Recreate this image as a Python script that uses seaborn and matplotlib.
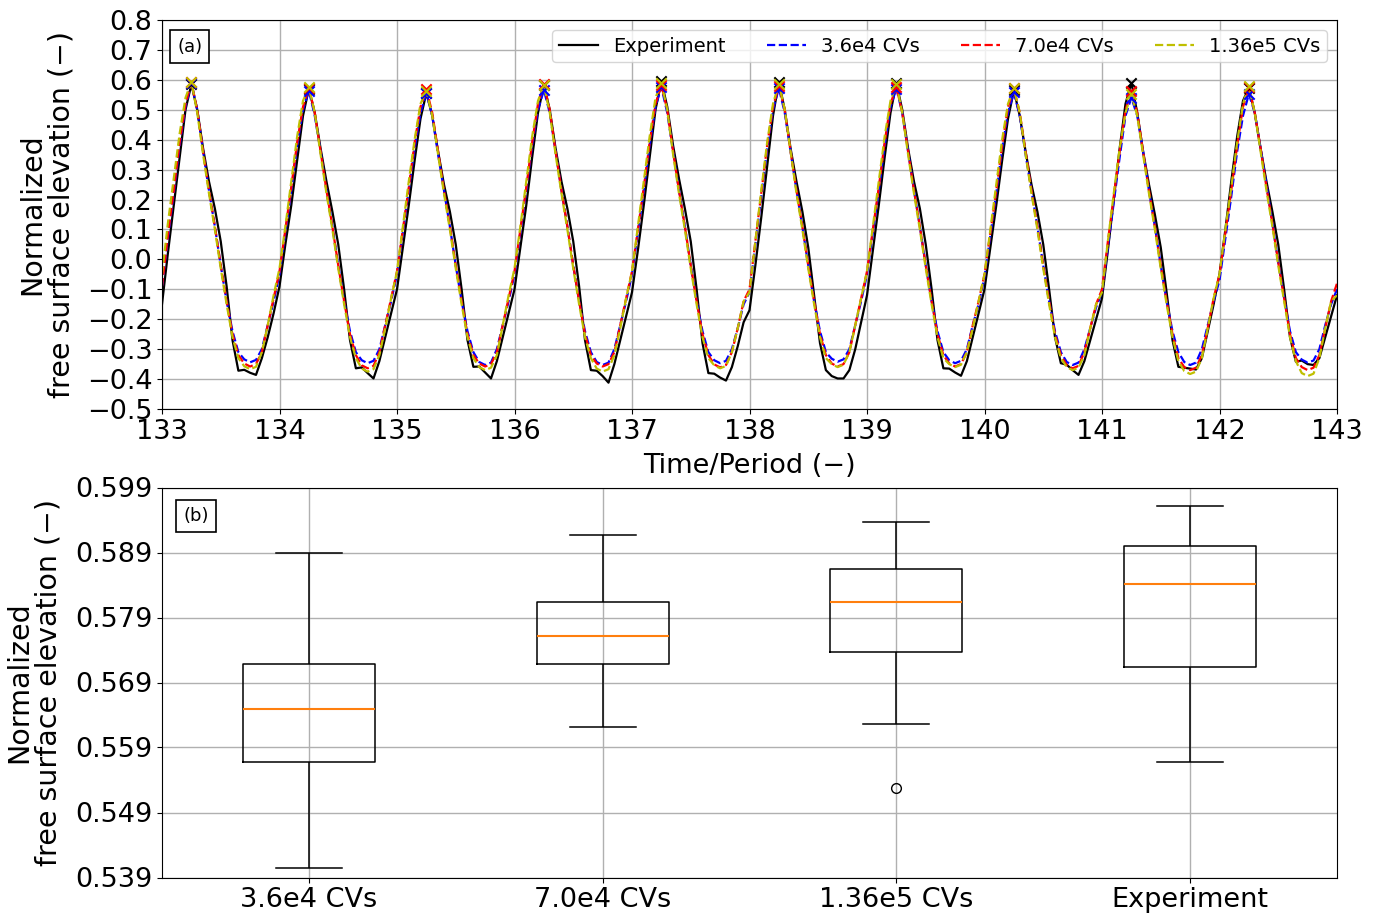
import numpy as np
import pandas as pd
import matplotlib
matplotlib.use("Agg")
import matplotlib.pyplot as plt
from matplotlib.ticker import FormatStrFormatter
import seaborn as sns

# ---------------- data ----------------
t_start = 133.0
t_step = 0.05          # sampling step in wave periods
n_periods = 10

# each row = one period, samples at phase 0.00, 0.05, ..., 0.95
experiment = [
    [-0.15, 0.02, 0.18, 0.34, 0.50, 0.5852, 0.50, 0.37, 0.26, 0.17, 0.06, -0.09, -0.27, -0.372, -0.369, -0.379, -0.386, -0.33, -0.26, -0.18],
    [-0.09, 0.05, 0.18, 0.33, 0.48, 0.5706, 0.49, 0.37, 0.26, 0.16, 0.05, -0.10, -0.27, -0.364, -0.361, -0.380, -0.398, -0.34, -0.26, -0.18],
    [-0.10, 0.04, 0.18, 0.33, 0.47, 0.5568, 0.48, 0.36, 0.25, 0.16, 0.05, -0.10, -0.27, -0.359, -0.358, -0.378, -0.398, -0.34, -0.26, -0.18],
    [-0.10, 0.04, 0.18, 0.34, 0.49, 0.5830, 0.50, 0.37, 0.26, 0.17, 0.06, -0.09, -0.27, -0.370, -0.372, -0.390, -0.412, -0.35, -0.27, -0.19],
    [-0.11, 0.03, 0.18, 0.34, 0.50, 0.5961, 0.51, 0.38, 0.27, 0.17, 0.06, -0.10, -0.28, -0.380, -0.382, -0.395, -0.405, -0.36, -0.29, -0.21],
    [-0.17, -0.02, 0.14, 0.31, 0.48, 0.5930, 0.50, 0.37, 0.26, 0.16, 0.04, -0.12, -0.28, -0.370, -0.390, -0.398, -0.398, -0.37, -0.30, -0.21],
    [-0.12, 0.03, 0.18, 0.34, 0.49, 0.5893, 0.50, 0.37, 0.26, 0.17, 0.05, -0.10, -0.27, -0.364, -0.365, -0.378, -0.389, -0.34, -0.26, -0.18],
    [-0.10, 0.04, 0.18, 0.33, 0.47, 0.5650, 0.48, 0.36, 0.25, 0.16, 0.05, -0.10, -0.26, -0.347, -0.352, -0.370, -0.386, -0.34, -0.27, -0.20],
    [-0.13, 0.03, 0.20, 0.37, 0.52, 0.5903, 0.49, 0.36, 0.25, 0.15, 0.04, -0.11, -0.27, -0.359, -0.362, -0.365, -0.368, -0.33, -0.24, -0.15],
    [-0.05, 0.10, 0.26, 0.41, 0.53, 0.5738, 0.49, 0.37, 0.26, 0.16, 0.05, -0.10, -0.26, -0.342, -0.338, -0.350, -0.353, -0.33, -0.26, -0.19],
]
experiment_end = -0.12

cv_36e4 = [
    [-0.09, 0.07, 0.22, 0.38, 0.51, 0.5890, 0.50, 0.36, 0.23, 0.11, -0.02, -0.14, -0.24, -0.31, -0.334, -0.344, -0.336, -0.30, -0.22, -0.14],
    [-0.05, 0.09, 0.23, 0.38, 0.50, 0.5640, 0.48, 0.36, 0.23, 0.11, -0.02, -0.14, -0.24, -0.31, -0.337, -0.347, -0.339, -0.30, -0.22, -0.14],
    [-0.05, 0.09, 0.23, 0.37, 0.49, 0.5562, 0.48, 0.35, 0.23, 0.11, -0.02, -0.14, -0.24, -0.31, -0.343, -0.353, -0.345, -0.30, -0.22, -0.14],
    [-0.05, 0.09, 0.23, 0.38, 0.50, 0.5660, 0.49, 0.36, 0.23, 0.11, -0.02, -0.14, -0.24, -0.31, -0.343, -0.353, -0.345, -0.30, -0.22, -0.14],
    [-0.05, 0.09, 0.23, 0.38, 0.51, 0.5760, 0.49, 0.36, 0.23, 0.11, -0.02, -0.14, -0.24, -0.31, -0.337, -0.347, -0.339, -0.30, -0.23, -0.15],
    [-0.11, 0.05, 0.21, 0.37, 0.50, 0.5721, 0.49, 0.36, 0.23, 0.11, -0.02, -0.14, -0.24, -0.31, -0.332, -0.342, -0.334, -0.30, -0.22, -0.14],
    [-0.05, 0.09, 0.23, 0.38, 0.51, 0.5710, 0.49, 0.36, 0.23, 0.11, -0.02, -0.14, -0.24, -0.31, -0.337, -0.347, -0.339, -0.30, -0.22, -0.15],
    [-0.06, 0.08, 0.22, 0.37, 0.49, 0.5582, 0.48, 0.35, 0.23, 0.11, -0.02, -0.14, -0.24, -0.31, -0.343, -0.353, -0.345, -0.30, -0.23, -0.16],
    [-0.11, 0.04, 0.19, 0.34, 0.48, 0.5404, 0.48, 0.36, 0.23, 0.11, -0.02, -0.14, -0.24, -0.31, -0.343, -0.353, -0.345, -0.30, -0.22, -0.14],
    [-0.07, 0.07, 0.21, 0.36, 0.48, 0.5530, 0.49, 0.37, 0.25, 0.12, -0.01, -0.13, -0.24, -0.31, -0.335, -0.345, -0.338, -0.30, -0.22, -0.15],
]
cv_36e4_end = -0.10

cv_70e4 = [
    [-0.09, 0.08, 0.23, 0.39, 0.52, 0.5917, 0.50, 0.36, 0.23, 0.11, -0.02, -0.14, -0.25, -0.32, -0.348, -0.358, -0.350, -0.31, -0.22, -0.13],
    [-0.04, 0.10, 0.24, 0.39, 0.51, 0.5736, 0.49, 0.36, 0.23, 0.11, -0.02, -0.14, -0.25, -0.32, -0.354, -0.364, -0.356, -0.31, -0.22, -0.13],
    [-0.04, 0.10, 0.24, 0.39, 0.51, 0.5690, 0.49, 0.36, 0.23, 0.11, -0.02, -0.14, -0.25, -0.32, -0.348, -0.358, -0.350, -0.31, -0.22, -0.13],
    [-0.04, 0.10, 0.24, 0.39, 0.52, 0.5850, 0.50, 0.36, 0.23, 0.11, -0.02, -0.14, -0.25, -0.32, -0.348, -0.358, -0.350, -0.31, -0.22, -0.13],
    [-0.04, 0.10, 0.24, 0.39, 0.52, 0.5817, 0.50, 0.36, 0.23, 0.11, -0.02, -0.14, -0.25, -0.32, -0.351, -0.361, -0.353, -0.31, -0.23, -0.14],
    [-0.10, 0.06, 0.22, 0.38, 0.51, 0.5806, 0.50, 0.36, 0.23, 0.11, -0.02, -0.14, -0.25, -0.32, -0.348, -0.358, -0.350, -0.31, -0.22, -0.13],
    [-0.04, 0.10, 0.24, 0.39, 0.52, 0.5772, 0.49, 0.36, 0.23, 0.11, -0.02, -0.14, -0.25, -0.32, -0.348, -0.358, -0.350, -0.31, -0.22, -0.14],
    [-0.05, 0.09, 0.23, 0.38, 0.51, 0.5712, 0.49, 0.36, 0.23, 0.11, -0.02, -0.14, -0.25, -0.32, -0.354, -0.364, -0.356, -0.31, -0.23, -0.15],
    [-0.10, 0.06, 0.21, 0.36, 0.50, 0.5622, 0.49, 0.36, 0.23, 0.11, -0.02, -0.14, -0.25, -0.33, -0.360, -0.370, -0.362, -0.32, -0.23, -0.13],
    [-0.05, 0.09, 0.23, 0.38, 0.51, 0.5752, 0.49, 0.37, 0.24, 0.12, -0.01, -0.13, -0.25, -0.33, -0.360, -0.370, -0.362, -0.32, -0.23, -0.14],
]
cv_70e4_end = -0.08

cv_136e5 = [
    [-0.05, 0.12, 0.27, 0.42, 0.54, 0.5937, 0.49, 0.35, 0.22, 0.10, -0.03, -0.15, -0.26, -0.33, -0.357, -0.367, -0.359, -0.31, -0.22, -0.12],
    [-0.03, 0.11, 0.26, 0.41, 0.53, 0.5758, 0.49, 0.35, 0.22, 0.10, -0.03, -0.15, -0.26, -0.33, -0.365, -0.375, -0.367, -0.32, -0.23, -0.13],
    [-0.04, 0.11, 0.26, 0.40, 0.52, 0.5626, 0.48, 0.35, 0.22, 0.10, -0.03, -0.15, -0.26, -0.33, -0.360, -0.370, -0.362, -0.32, -0.22, -0.12],
    [-0.03, 0.11, 0.26, 0.41, 0.53, 0.5828, 0.49, 0.35, 0.22, 0.10, -0.03, -0.15, -0.26, -0.33, -0.365, -0.375, -0.367, -0.32, -0.23, -0.13],
    [-0.04, 0.11, 0.26, 0.41, 0.54, 0.5900, 0.50, 0.35, 0.22, 0.10, -0.03, -0.15, -0.26, -0.33, -0.354, -0.364, -0.356, -0.31, -0.23, -0.14],
    [-0.11, 0.06, 0.23, 0.39, 0.52, 0.5867, 0.50, 0.36, 0.22, 0.10, -0.03, -0.15, -0.26, -0.33, -0.350, -0.360, -0.352, -0.31, -0.22, -0.13],
    [-0.04, 0.11, 0.26, 0.41, 0.53, 0.5860, 0.49, 0.35, 0.22, 0.10, -0.03, -0.15, -0.26, -0.33, -0.350, -0.360, -0.352, -0.31, -0.23, -0.14],
    [-0.05, 0.10, 0.25, 0.40, 0.52, 0.5730, 0.49, 0.35, 0.22, 0.10, -0.03, -0.15, -0.26, -0.33, -0.360, -0.370, -0.362, -0.32, -0.23, -0.15],
    [-0.11, 0.06, 0.22, 0.37, 0.49, 0.5528, 0.48, 0.35, 0.22, 0.10, -0.03, -0.15, -0.26, -0.34, -0.373, -0.383, -0.375, -0.33, -0.23, -0.13],
    [-0.05, 0.10, 0.24, 0.39, 0.52, 0.5800, 0.49, 0.36, 0.23, 0.11, -0.02, -0.14, -0.26, -0.34, -0.380, -0.390, -0.382, -0.33, -0.23, -0.14],
]
cv_136e5_end = -0.12

series_names = ["Experiment", "3.6e4 CVs", "7.0e4 CVs", "1.36e5 CVs"]
series_rows = [experiment, cv_36e4, cv_70e4, cv_136e5]
series_ends = [experiment_end, cv_36e4_end, cv_70e4_end, cv_136e5_end]
series_colors = ["k", "b", "r", "y"]
series_styles = ["-", "--", "--", "--"]

box_order = ["3.6e4 CVs", "7.0e4 CVs", "1.36e5 CVs", "Experiment"]

# ---------------- figure ----------------
plt.rcParams["font.family"] = ["DejaVu Sans"]
fig = plt.figure(figsize=(13.8, 9.17), dpi=100)
ax1 = fig.add_axes([162 / 1380, 1 - 409 / 917, 1175 / 1380, 389 / 917])
ax2 = fig.add_axes([162 / 1380, 1 - 877.5 / 917, 1175 / 1380, 390 / 917])

n_samp = len(experiment[0])
time = np.round(t_start + t_step * np.arange(n_periods * n_samp + 1), 4)

peak_records = []
for name, rows, end, col, ls in zip(series_names, series_rows, series_ends,
                                     series_colors, series_styles):
    vals = np.array([v for r in rows for v in r] + [end])
    sns.lineplot(x=time, y=vals, ax=ax1, color=col, linestyle=ls,
                 linewidth=1.6, label=name, sort=False)
    pk_t, pk_v = [], []
    for i, r in enumerate(rows):
        j = int(np.argmax(r))
        pk_t.append(time[i * n_samp + j])
        pk_v.append(r[j])
        peak_records.append({"case": name, "peak": r[j]})
    sns.scatterplot(x=pk_t, y=pk_v, ax=ax1, marker="x", color=col, s=55,
                    linewidth=1.5, legend=False, zorder=4)

ax1.set_xlim(133, 143)
ax1.set_ylim(-0.5, 0.8)
ax1.set_xticks(np.arange(133, 144, 1))
ax1.set_yticks(np.round(np.arange(-0.5, 0.81, 0.1), 1))
ax1.grid(True, color="#b0b0b0", linewidth=1.0)
ax1.tick_params(labelsize=19.5)
ax1.set_xlabel("Time/Period (\u2212)", fontsize=19.5, labelpad=6)
ax1.set_ylabel("Normalized\nfree surface elevation (\u2212)", fontsize=20.5,
               linespacing=1.05)
ax1.yaxis.set_label_coords(-0.074, 0.5)
ax1.legend(loc="upper right", ncol=4, fontsize=14, borderpad=0.35,
           columnspacing=2.1, handlelength=2.0)
ax1.text(0.0128, 0.955, "(a)", transform=ax1.transAxes, fontsize=13,
         ha="left", va="top",
         bbox=dict(boxstyle="square,pad=0.4", fc="white", ec="black", lw=1.2))

# ---------------- box plot ----------------
df = pd.DataFrame(peak_records)
sns.boxplot(data=df, x="case", y="peak", order=box_order, ax=ax2,
            width=0.45, fill=False, color="black", linewidth=1.1, whis=1.5,
            medianprops=dict(color="#ff7f0e", linewidth=1.5),
            flierprops=dict(marker="o", markerfacecolor="none",
                            markeredgecolor="black", markersize=7,
                            markeredgewidth=1.0))
ax2.set_ylim(0.539, 0.599)
ax2.set_yticks(np.round(np.arange(0.539, 0.5995, 0.01), 3))
ax2.yaxis.set_major_formatter(FormatStrFormatter("%.3f"))
ax2.set_xlim(-0.5, 3.5)
ax2.grid(True, axis="both", color="#b0b0b0", linewidth=1.0)
ax2.set_axisbelow(True)
ax2.tick_params(labelsize=19.5)
ax2.set_xlabel("")
ax2.set_ylabel("Normalized\nfree surface elevation (\u2212)", fontsize=20.5,
               linespacing=1.05)
ax2.yaxis.set_label_coords(-0.085, 0.5)
ax2.text(0.018, 0.95, "(b)", transform=ax2.transAxes, fontsize=13,
         ha="left", va="top",
         bbox=dict(boxstyle="square,pad=0.4", fc="white", ec="black", lw=1.2))

fig.savefig("out.png", dpi=100)
